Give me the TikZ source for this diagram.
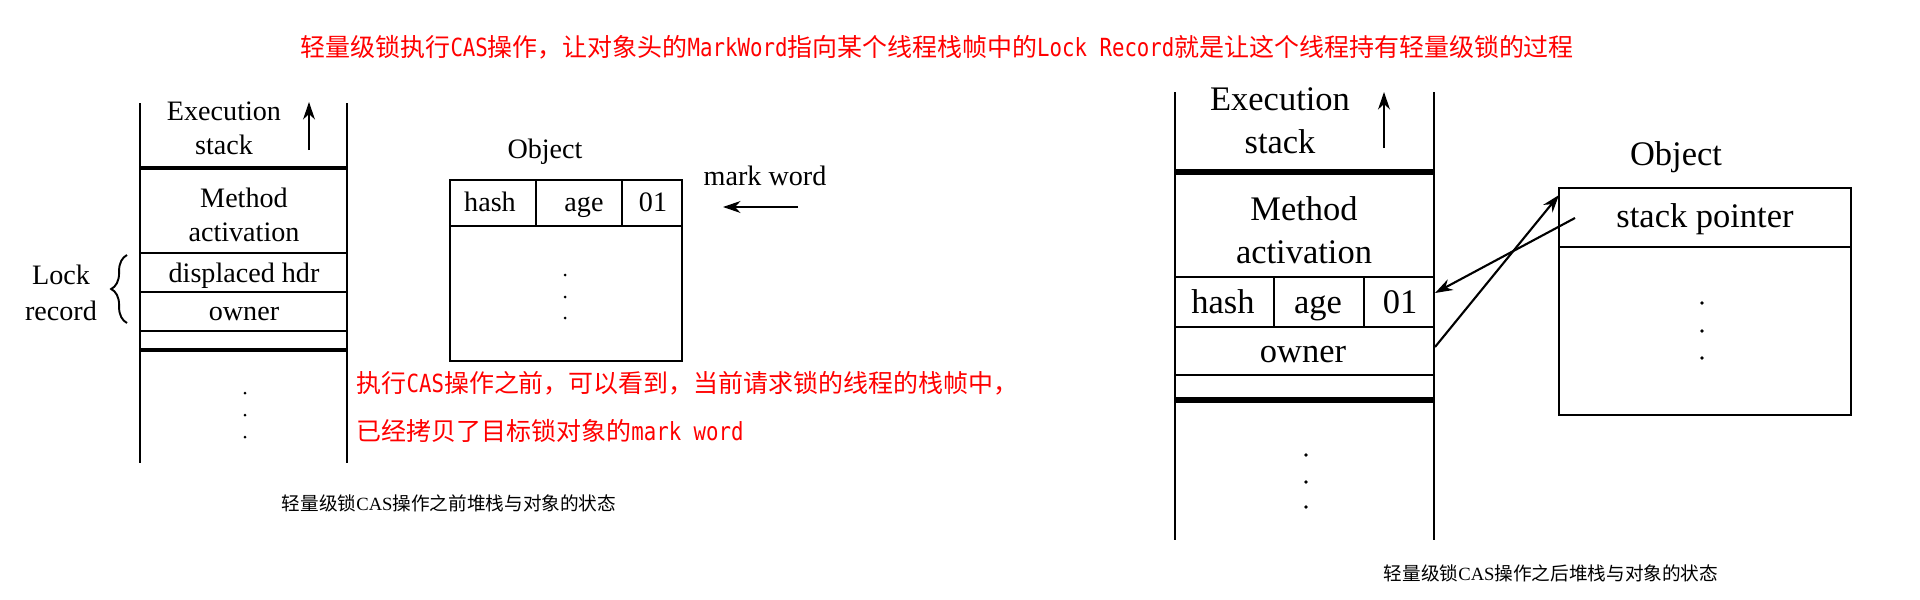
\documentclass[tikz,border=0pt]{standalone}
\usepackage{fontspec}
\setmainfont{Liberation Serif}
\newfontfamily\cjk{Noto Sans CJK SC}
\newfontfamily\rmono[FakeStretch=0.83]{DejaVu Sans Mono}
\usetikzlibrary{arrows.meta,decorations.pathreplacing}

\newcommand{\mono}[1]{{\rmono #1}}

\tikzset{
  redtxt/.style={text=red, font=\cjk\fontsize{7.1}{8}\selectfont, anchor=west, inner sep=0pt},
  lbl/.style={font=\fontsize{8}{9.7}\selectfont, align=center, inner sep=0pt},
  biglbl/.style={font=\fontsize{9.8}{12.2}\selectfont, align=center, inner sep=0pt},
  capt/.style={font=\cjk\fontsize{5.3}{6.5}\selectfont, inner sep=0pt},
  thinl/.style={line width=0.55pt},
  bar/.style={line width=1.4pt},
  arr/.style={line width=0.6pt, -{Stealth[length=5pt,width=3.4pt]}},
}

\begin{document}
\begin{tikzpicture}[x=0.01cm, y=-0.01cm]
  \useasboundingbox (0,0) rectangle (1920,600);

  % 标题
  \node[redtxt] (title) at (300,47) {轻量级锁执行\mono{CAS}操作，让对象头的\mono{MarkWord}指向某个线程栈帧中的\mono{Lock Record}就是让这个线程持有轻量级锁的过程};

  % 左图：CAS之前的栈
  \draw[thinl] (140,103) -- (140,463);
  \draw[thinl] (347,103) -- (347,463);
  \draw[bar] (140,168) -- (347,168);
  \draw[thinl] (140,253) -- (347,253);
  \draw[thinl] (140,292) -- (347,292);
  \draw[thinl] (140,331) -- (347,331);
  \draw[bar] (140,350) -- (347,350);
  \node[lbl] (exec1) at (224,128) {Execution\\stack};
  \coordinate (up1a) at (309,150);
  \coordinate (up1b) at (309,102);
  \draw[arr] (up1a) -- (up1b);
  \node[lbl] (meth1) at (244,215) {Method\\activation};
  \node[lbl, anchor=base] (disp1) at (244,282) {displaced hdr};
  \node[lbl, anchor=base] (own1) at (244,320) {owner};
  \foreach \y in {393,415,437} \fill (245,\y) circle (1.5);

  % Lock record
  \draw[thinl, decorate, decoration={brace, amplitude=4.5pt}] (127,323) -- (127,255);
  \node[lbl, anchor=base] (lock1) at (61,284) {Lock};
  \node[lbl, anchor=base] (rec1) at (61,320) {record};

  % 左图：对象
  \draw[thinl] (450,180) rectangle (682,361);
  \draw[thinl] (450,226) -- (682,226);
  \draw[thinl] (536,180) -- (536,226);
  \draw[thinl] (622,180) -- (622,226);
  \node[lbl, anchor=base] (obj1) at (545,159) {Object};
  \node[lbl, anchor=base] (hash1) at (490,211) {hash};
  \node[lbl, anchor=base] (age1) at (584,211) {age};
  \node[lbl, anchor=base] (bit1) at (653,211) {01};
  \foreach \y in {275,297,318} \fill (565,\y) circle (1.5);
  \node[lbl, anchor=base] (mark1) at (765,185) {mark word};
  \coordinate (mwa) at (798,207);
  \coordinate (mwb) at (723,207);
  \draw[arr] (mwa) -- (mwb);

  % 红色说明
  \node[redtxt] (note1) at (356,383) {执行\mono{CAS}操作之前，可以看到，当前请求锁的线程的栈帧中，};
  \node[redtxt] (note2) at (356,431) {已经拷贝了目标锁对象的\mono{mark word}};
  \node[capt] (cap1) at (449,503) {轻量级锁{\rmfamily CAS}操作之前堆栈与对象的状态};

  % 右图：CAS之后的栈
  \draw[line width=0.7pt] (1175,92) -- (1175,540);
  \draw[line width=0.7pt] (1434,92) -- (1434,540);
  \draw[bar, line width=1.8pt] (1175,172) -- (1434,172);
  \draw[line width=0.7pt] (1175,277) -- (1434,277);
  \draw[line width=0.7pt] (1175,327) -- (1434,327);
  \draw[line width=0.7pt] (1175,375) -- (1434,375);
  \draw[bar, line width=1.8pt] (1175,400) -- (1434,400);
  \draw[line width=0.7pt] (1274,277) -- (1274,327);
  \draw[line width=0.7pt] (1364,277) -- (1364,327);
  \node[biglbl] (exec2) at (1280,121) {Execution\\stack};
  \coordinate (up2a) at (1384,148);
  \coordinate (up2b) at (1384,92);
  \draw[arr] (up2a) -- (up2b);
  \node[biglbl] (meth2) at (1304,230) {Method\\activation};
  \node[biglbl, anchor=base] (hash2) at (1223,313) {hash};
  \node[biglbl, anchor=base] (age2) at (1318,313) {age};
  \node[biglbl, anchor=base] (bit2) at (1400,313) {01};
  \node[biglbl, anchor=base] (own2) at (1303,362) {owner};
  \foreach \y in {455,482,507} \fill (1306,\y) circle (1.8);

  % 右图：对象
  \draw[line width=0.7pt] (1559,188) rectangle (1851,415);
  \draw[line width=0.7pt] (1559,247) -- (1851,247);
  \node[biglbl, anchor=base] (obj2) at (1676,165) {Object};
  \node[biglbl, anchor=base] (sp2) at (1705,227) {stack pointer};
  \foreach \y in {303,331,358} \fill (1702,\y) circle (1.8);

  % 指针交换
  \coordinate (spL) at (1575,218);
  \coordinate (hashR) at (1435,293);
  \coordinate (ownR) at (1435,347);
  \coordinate (objTL) at (1559,195);
  \draw[arr] (spL) -- (hashR);
  \draw[arr] (ownR) -- (objTL);
  \node[capt] (cap2) at (1551,573) {轻量级锁{\rmfamily CAS}操作之后堆栈与对象的状态};
\end{tikzpicture}
\end{document}
